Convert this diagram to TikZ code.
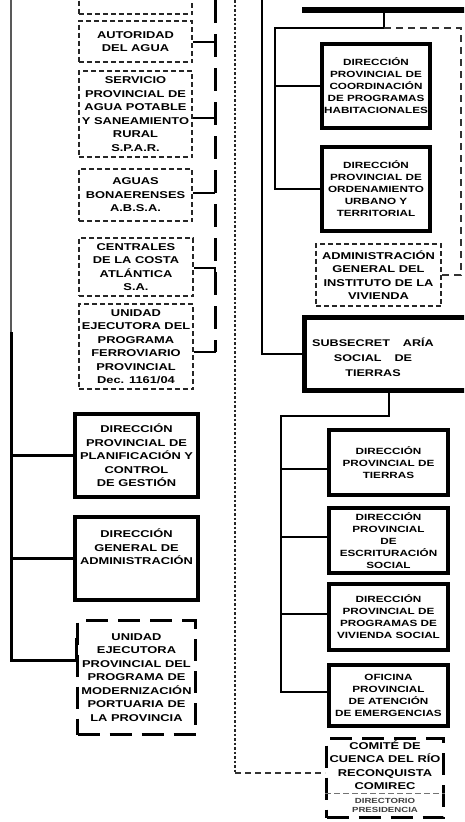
\documentclass[tikz,border=0pt]{standalone}
\usepackage{fontspec}
\setmainfont[FakeStretch=1.3]{Liberation Sans}
\newcommand\lfnt{\fontsize{9.9}{13.5}\selectfont\bfseries}
\newcommand\rfnt{\fontsize{9}{12}\selectfont\bfseries}
\newcommand\sfnt{\fontsize{9.7}{15}\selectfont\bfseries}
\newcommand\tfnt{\fontsize{7.4}{9}\selectfont\bfseries}
\begin{document}
\begin{tikzpicture}[x=1pt,y=-1pt,
  tbox/.style={draw, line width=4pt, inner sep=0pt, align=center, font=\rfnt},
  fdbox/.style={draw=black!85, line width=1.6pt, dash pattern=on 5pt off 3pt, inner sep=0pt, align=center, font=\lfnt},
  ldbox/.style={draw, line width=3pt, dash pattern=on 22pt off 10pt, inner sep=0pt, align=center, font=\lfnt},
  thinln/.style={line width=1.8pt},
  thickln/.style={line width=3pt},
  stub/.style={line width=2pt},
  dline/.style={line width=3pt, dash pattern=on 23pt off 11pt},
  dotln/.style={black!85, line width=1.6pt, dash pattern=on 2.5pt off 2pt},
  fdash/.style={black!80, line width=1.6pt, dash pattern=on 7pt off 5pt},
  hdash/.style={black!80, line width=1.6pt, dash pattern=on 6pt off 4pt}]
\path[use as bounding box] (0,0) rectangle (464,822);
\fill[white] (0,0) rectangle (464,822);
\clip (0,0) rectangle (464,822);

% ---------- left column: fine dashed boxes ----------
\node[fdbox, minimum width=113.4pt, minimum height=53.4pt] (topbox) at (135.5,-12.5) {};
\node[fdbox, minimum width=113.4pt, minimum height=41.4pt] (autor) at (135.5,41.5) {AUTORIDAD\\DEL AGUA};
\node[fdbox, minimum width=113.4pt, minimum height=86.4pt] (spar) at (135.5,114) {SERVICIO\\PROVINCIAL DE\\AGUA POTABLE\\Y SANEAMIENTO\\RURAL\\S.P.A.R.};
\node[fdbox, minimum width=113.4pt, minimum height=52.4pt] (absa) at (135.5,195) {AGUAS\\BONAERENSES\\A.B.S.A.};
\node[fdbox, minimum width=114.4pt, minimum height=58.4pt] (cca) at (136,267) {CENTRALES\\DE LA COSTA\\ATLÁNTICA\\S.A.};
\node[fdbox, minimum width=114.4pt, minimum height=85.4pt] (ferro) at (136,346.5) {UNIDAD\\EJECUTORA DEL\\PROGRAMA\\FERROVIARIO\\PROVINCIAL\\Dec. 1161/04};

% ---------- left column: thick boxes ----------
\node[tbox, font=\lfnt, minimum width=123pt, minimum height=83pt] (planif) at (136.5,455.5) {DIRECCIÓN\\PROVINCIAL DE\\PLANIFICACIÓN Y\\CONTROL\\DE GESTIÓN};
\node[tbox, minimum width=123pt, minimum height=83pt] (admin) at (136.5,558.5) {};
\node[font=\lfnt, align=center, inner sep=0pt] (admintxt) at (136.5,547) {DIRECCIÓN\\GENERAL DE\\ADMINISTRACIÓN};
\node[ldbox, minimum width=118pt, minimum height=114pt] (port) at (136.5,677.5) {UNIDAD\\EJECUTORA\\PROVINCIAL DEL\\PROGRAMA DE\\MODERNIZACIÓN\\PORTUARIA DE\\LA PROVINCIA};

% ---------- right part ----------
\node[fill=black, inner sep=0pt, minimum width=170pt, minimum height=6pt] (topbar) at (387,10) {};
\node[tbox, minimum width=108pt, minimum height=84pt] (coord) at (376,86) {DIRECCIÓN\\PROVINCIAL DE\\COORDINACIÓN\\DE PROGRAMAS\\HABITACIONALES};
\node[tbox, minimum width=108pt, minimum height=84pt] (orden) at (376,189) {DIRECCIÓN\\PROVINCIAL DE\\ORDENAMIENTO\\URBANO Y\\TERRITORIAL};
\node[fdbox, minimum width=125.4pt, minimum height=62.4pt] (ivba) at (378.5,275) {ADMINISTRACIÓN\\GENERAL DEL\\INSTITUTO DE LA\\VIVIENDA};
\node[tbox, line width=5pt, minimum width=165pt, minimum height=73pt] (subsec) at (387,354) {};
\node[font=\sfnt, align=center, inner sep=0pt] (subsectxt) at (373,357) {SUBSECRET\hspace{13pt}ARÍA\\SOCIAL\hspace{13pt}DE\\TIERRAS};
\node[tbox, minimum width=119pt, minimum height=65pt] (tierras) at (388.5,462.5) {DIRECCIÓN\\PROVINCIAL DE\\TIERRAS};
\node[tbox, minimum width=119pt, minimum height=65pt] (escrit) at (388.5,540.5) {DIRECCIÓN\\PROVINCIAL\\DE\\ESCRITURACIÓN\\SOCIAL};
\node[tbox, minimum width=119pt, minimum height=66pt] (viv) at (388.5,617) {DIRECCIÓN\\PROVINCIAL DE\\PROGRAMAS DE\\VIVIENDA SOCIAL};
\node[tbox, minimum width=119pt, minimum height=61pt] (ofic) at (388.5,695.5) {OFICINA\\PROVINCIAL\\DE ATENCIÓN\\DE EMERGENCIAS};
\node[ldbox, minimum width=117pt, minimum height=79pt] (comite) at (385,778) {};
\node[font=\lfnt, align=center, inner sep=0pt] (comitetxt) at (385,765) {COMITÉ DE\\CUENCA DEL RÍO\\RECONQUISTA\\COMIREC};
\coordinate (dirline) at (385,793);
\draw[black!55, line width=1pt, dash pattern=on 6pt off 3pt] (comite.west |- dirline) -- (comite.east |- dirline);
\node[font=\tfnt, text=black!75, align=center, inner sep=0pt] (direct) at (385,805) {DIRECTORIO\\PRESIDENCIA};

% ---------- left connectors ----------
\coordinate (lsA) at (11,0);
\coordinate (lsB) at (11,332);
\coordinate (lsC) at (11,660);
\draw[line width=2pt, black!65] (lsA) -- (lsB);
\draw[thickln] (lsB) -- (lsC) -| ([yshift=40pt]port.west);
\draw[thickln] (lsA |- planif.west) -- (planif.west);
\draw[thickln] (lsA |- admin.west) -- (admin.west);

\coordinate (dvA) at (215,0);
\coordinate (j1) at (215,42);
\coordinate (j2) at (215,118);
\coordinate (j3) at (215,193);
\coordinate (j4) at (215,268);
\coordinate (j5) at (215,352);
\draw[dline] (dvA) -- (j5);
\draw[stub] (autor.east |- j1) -- (j1);
\draw[stub] (spar.east |- j2) -- (j2);
\draw[stub] (absa.east |- j3) -- (j3);
\draw[stub] (cca.east |- j4) -- (j4) -- ++(0,10);
\draw[stub] (ferro.east |- j5) -- (j5) -- ++(0,-10);

\coordinate (dotA) at (235,0);
\coordinate (dotB) at (235,773);
\draw[dotln] (dotA) -- (dotB);
\draw[hdash] (dotB) -- (comite.west |- dotB);

% ---------- right connectors ----------
\coordinate (rA) at (262,0);
\draw[line width=1.6pt] (rA) |- (subsec.west);
\coordinate (tj) at (384,28);
\coordinate (tl) at (275,28);
\coordinate (tr) at (461,28);
\draw[thinln] (topbar.south -| tj) -- (tj) -- (tl) |- (orden.west);
\draw[thinln] (tl |- coord.west) -- (coord.west);
\draw[fdash] (tj) -- (tr) |- (ivba.east);

\coordinate (sj) at (389,416);
\coordinate (sl) at (281,416);
\coordinate (bt) at (281,469);
\coordinate (be) at (281,537);
\coordinate (bv) at (281,614);
\coordinate (bo) at (281,692);
\draw[thinln] (subsec.south -| sj) -- (sj) -- (sl) -- (bo) -- (bo -| ofic.west);
\draw[thinln] (bt) -- (bt -| tierras.west);
\draw[thinln] (be) -- (be -| escrit.west);
\draw[thinln] (bv) -- (bv -| viv.west);
\end{tikzpicture}
\end{document}
